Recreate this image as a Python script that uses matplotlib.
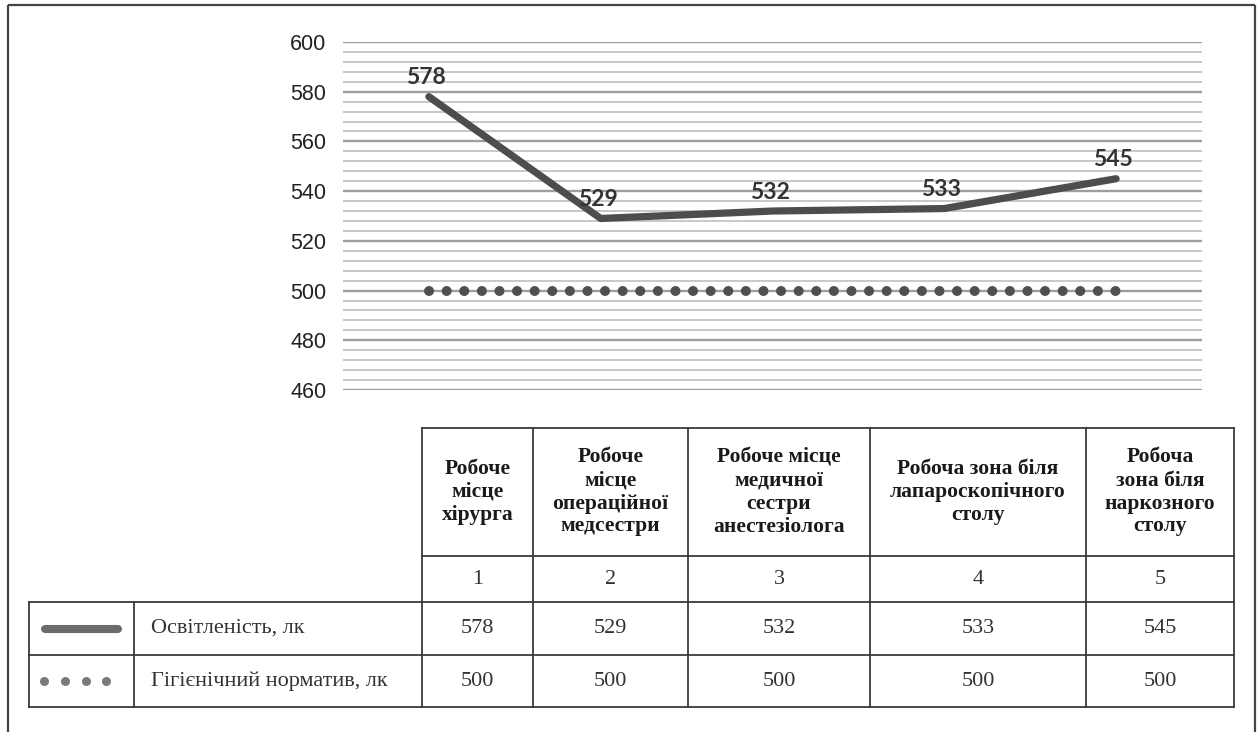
import matplotlib
matplotlib.use("Agg")
import matplotlib.pyplot as plt
from matplotlib.ticker import MultipleLocator

# ---- data ----
categories = [
    "Робоче\nмісце\nхірурга",
    "Робоче\nмісце\nопераційної\nмедсестри",
    "Робоче місце\nмедичної\nсестри\nанестезіолога",
    "Робоча зона біля\nлапароскопічного\nстолу",
    "Робоча\nзона біля\nнаркозного\nстолу",
]
category_numbers = [1, 2, 3, 4, 5]
illuminance = [578, 529, 532, 533, 545]
hygienic_norm = [500, 500, 500, 500, 500]
series_names = ["Освітленість, лк", "Гігієнічний норматив, лк"]
y_ticks = [460, 480, 500, 520, 540, 560, 580, 600]

W, H = 1259, 732
fig = plt.figure(figsize=(W / 100, H / 100), dpi=100)
fig.patch.set_facecolor("white")

# ---- line chart ----
ax = fig.add_axes([343 / W, 1 - 390 / H, (1202 - 343) / W, (390 - 42) / H])
ax.set_xlim(0.5, 5.5)
ax.set_ylim(y_ticks[0], y_ticks[-1])
ax.set_yticks(y_ticks)
ax.yaxis.set_minor_locator(MultipleLocator(4))
ax.set_xticks([])
ax.grid(which="major", axis="y", color="#9e9e9e", lw=1.7)
ax.grid(which="minor", axis="y", color="#c8c8c8", lw=1.4)
ax.set_axisbelow(True)
for s in ax.spines.values():
    s.set_visible(False)
ax.tick_params(axis="y", which="both", length=0, pad=12)
for lab in ax.get_yticklabels():
    lab.set_fontfamily("Liberation Sans")
    lab.set_fontsize(15.5)
    lab.set_color("#222222")

ax.plot(category_numbers, hygienic_norm, color="#4f4f4f", lw=7.2,
        linestyle=(0, (0.01, 1.75)), dash_capstyle="round", zorder=3)
ax.plot(category_numbers, illuminance, color="#4d4d4d", lw=5.2,
        solid_capstyle="round", solid_joinstyle="round", zorder=4)
for x, v in zip(category_numbers, illuminance):
    ax.annotate(str(v), (x, v), xytext=(-2, 6), textcoords="offset points",
                ha="center", va="bottom", fontsize=16.5, fontweight="bold",
                family="Lato", color="#333333", zorder=5)

# ---- frame and data table (pixel coordinates) ----
tab = fig.add_axes([0, 0, 1, 1], zorder=-1)
tab.set_xlim(0, W)
tab.set_ylim(H, 0)
tab.axis("off")

frame_kw = dict(color="#444444", lw=1.6, solid_capstyle="butt")
tab.plot([8, 8], [5, H], **frame_kw)
tab.plot([8, 1255], [5, 5], **frame_kw)
tab.plot([1255, 1255], [5, H], **frame_kw)

col_edges = [422, 533, 688, 870, 1086, 1234]
rows_y = [428, 556, 602, 655, 707]
line_kw = dict(color="#3a3a3a", lw=1.3, solid_capstyle="projecting")
tab.plot([col_edges[0], col_edges[-1]], [rows_y[0]] * 2, **line_kw)
tab.plot([col_edges[0], col_edges[-1]], [rows_y[1]] * 2, **line_kw)
for y in rows_y[2:]:
    tab.plot([29, col_edges[-1]], [y, y], **line_kw)
for x in col_edges:
    tab.plot([x, x], [rows_y[0], rows_y[-1]], **line_kw)
for x in (29, 134):
    tab.plot([x, x], [rows_y[2], rows_y[-1]], **line_kw)

serif = "Liberation Serif"
centers = [(a + b) / 2 for a, b in zip(col_edges[:-1], col_edges[1:])]
header_y = (rows_y[0] + rows_y[1]) / 2
num_y = (rows_y[1] + rows_y[2]) / 2
row1_y = (rows_y[2] + rows_y[3]) / 2
row2_y = (rows_y[3] + rows_y[4]) / 2

for cx, cat, n, v1, v2 in zip(centers, categories, category_numbers,
                             illuminance, hygienic_norm):
    tab.text(cx, header_y, cat, ha="center", va="center", family=serif,
             fontweight="bold", fontsize=15.5, linespacing=1.2,
             color="#1a1a1a")
    tab.text(cx, num_y, str(n), ha="center", va="center", family=serif,
             fontsize=16, color="#333333")
    tab.text(cx, row1_y, str(v1), ha="center", va="center", family=serif,
             fontsize=16, color="#333333")
    tab.text(cx, row2_y, str(v2), ha="center", va="center", family=serif,
             fontsize=16, color="#333333")

tab.text(151, row1_y, series_names[0], ha="left", va="center", family=serif,
         fontsize=16, color="#333333")
tab.text(151, row2_y, series_names[1], ha="left", va="center", family=serif,
         fontsize=16, color="#333333")

# legend keys
tab.plot([45, 118], [row1_y, row1_y], color="#6b6b6b", lw=5.8,
         solid_capstyle="round")
tab.plot([44, 65, 86, 106], [row2_y] * 4, linestyle="none", marker="o",
         markersize=6.5, color="#7a7a7a", markeredgewidth=0)

fig.savefig("out.png", dpi=100, facecolor="white")
